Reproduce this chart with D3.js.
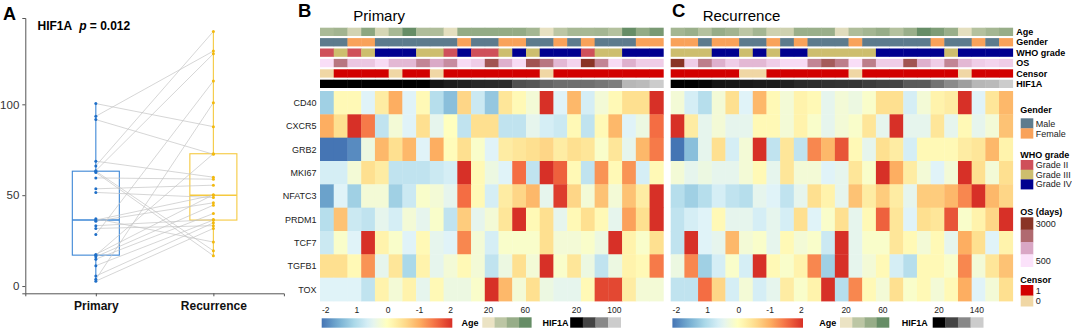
<!DOCTYPE html>
<html>
<head>
<meta charset="utf-8">
<script src="https://cdn.jsdelivr.net/npm/d3@7"></script>
<style>
  body { margin: 0; background: #fff; }
  text { font-family: "Liberation Sans", Arial, Helvetica, sans-serif; }
</style>
</head>
<body>
<script>
// ---------- data ----------
const groups = ["Primary", "Recurrence"];
// HIF1A per patient, paired (primary sorted ascending)
const hifPrimary    = [2.7, 3.7, 5.5, 11.2, 14.8, 16.1, 17.0, 17.4, 28.4, 31.7, 33.2, 35.7, 36.3, 37.0, 51.5, 53.5, 59.5, 62.5, 63.2, 63.5, 66.1, 68.7, 91.6, 93.4, 100.4];
const hifRecurrence = [31.7, 100.9, 34.8, 36.3, 39.9, 44.5, 72.8, 50.3, 112.8, 33.2, 36.6, 45.8, 50.0, 24.2, 48.7, 55.5, 58.8, 16.7, 19.4, 127.8, 140.1, 59.9, 72.5, 129.3, 87.7];
const yTicksA = [0, 50, 100];

const genes = ["CD40", "CXCR5", "GRB2", "MKI67", "NFATC3", "PRDM1", "TCF7", "TGFB1", "TOX"];
const annNames = ["Age", "Gender", "WHO grade", "OS", "Censor", "HIF1A"];

const exprPrimary = [
  [-1.1, 0.1, 0.1, -0.5, 0.3, 1.0, -0.5, 0.1, -0.9, -1.3, 0.6, -0.7, -1.2, 0.4, 0.1, -0.2, 2, -0.5, 0.9, -0.6, -0.2, 0.1, 0.5, 0.5, 2],
  [1.0, 0.5, 2, 1.4, -0.8, -0.2, -0.5, 0.5, -0.4, 0, -0.8, 0.5, 0.5, -0.8, -0.8, -0.4, -0.6, -0.7, 0.1, -0.8, 0.1, 0.9, -0.5, -0.3, 1.5],
  [-2, -2, -1.8, -0.3, 0.9, 0.5, 0.9, -0.5, 1.0, 0.05, 0.5, -0.1, -0.5, 0.3, 0.4, 0.5, 0.6, 0.3, 0.5, 0.4, -0.1, 0.4, -0.4, 0.9, 1.4],
  [-0.6, -0.6, -0.2, 0.5, 0.3, -0.8, -0.8, -0.8, -0.7, -0.6, 2, 0.1, -0.3, -0.5, 1.5, -0.8, 2, 1.6, 0.1, -0.8, 1.2, 0.1, 1.2, -0.6, 0.1],
  [-1.6, -0.5, -1.1, -0.2, -0.2, -1.1, -0.7, -0.1, -0.2, -0.4, 1.5, 0.1, -0.6, 0.3, 0.6, 0.9, -0.4, 1.9, 0.6, -0.2, 0.8, -0.2, 0.8, 0.3, 2],
  [-0.9, 0.8, -0.7, -0.8, -0.4, -0.6, -0.2, -0.4, -0.1, -0.8, 0.7, -0.4, -0.2, 0.4, 2, 0.1, 0.5, -0.4, 0.1, 0.5, 0.1, -0.4, 1.1, 0.5, 2],
  [-0.7, -0.1, -0.5, 2, 0.2, -0.1, -0.5, 0.1, -0.4, -0.5, 1.3, -0.2, -0.6, -0.1, -0.1, -0.1, 0.5, -0.2, -0.2, -0.1, -0.3, 2, 0.2, -0.1, 0.5],
  [0.5, 0.5, 0.1, 1.2, -0.4, 0.4, -1.0, 0.2, -0.4, -0.2, 0.1, -0.2, -0.8, -0.3, 0.5, -0.2, 2, -0.1, 0.4, -0.3, -0.8, -0.3, 0.2, 0.1, 1.4],
  [-0.5, -0.5, -0.5, -0.8, 0.2, -0.2, 0.2, -0.4, 0.1, -0.3, -0.3, -0.1, 2, 0.9, -0.2, 0.5, -0.3, -0.4, -0.4, 0.1, 1.8, 1.8, 0.3, -0.2, -0.2]
];
const exprRecurrence = [
  [-0.2, -0.6, -0.9, -0.2, 0.5, -0.5, 0.9, 0.1, -0.2, 0.2, 0.1, -0.4, -0.2, -0.3, -0.1, 0.5, 0.5, -0.6, -0.2, 0.2, 0.3, 2, -0.5, 0.4, 0.9],
  [2, 0.3, -0.4, -0.2, -0.4, -0.4, 0.1, 0.1, -0.2, 0.2, -0.1, -0.4, -0.2, -0.1, 0.4, -0.4, 2, -0.4, -0.4, 0.4, -0.4, 0.1, -0.4, -0.2, 0.8],
  [-2, -1.3, -0.4, 0.5, -0.6, -0.2, 2, -0.8, 0.4, -0.8, 1.3, 0.9, 1.7, 0.1, -0.4, 0.5, 0.3, -0.6, 0.1, 0.1, 0.1, 0.3, 0.4, 0.9, 0.2],
  [-0.2, -0.4, -0.3, -0.4, -0.4, -0.2, 0.1, -0.4, 0.4, -0.2, -0.2, -0.5, -0.4, 0.4, -0.1, 2, 1.0, 0.3, -0.2, -0.5, -0.2, 2, 0.5, -0.2, 0.5],
  [-0.9, -1.1, -0.9, -0.6, -0.8, -0.9, -0.4, -0.5, -0.8, -0.4, 0.5, 0.2, -0.4, 0.8, 0.3, 0.7, 0.3, -0.4, 0.7, 0.7, 0.9, 1.3, 2, 0.9, 0.6],
  [-0.8, -0.6, -0.5, 0.1, -0.4, -0.4, -0.6, -0.4, -0.6, 0.5, -0.5, -0.1, 0.5, -0.4, 0.1, 1.6, 0.4, -0.5, 0.5, 0.4, 1.7, -0.1, 0.2, 0.6, 2],
  [-0.8, 2, -0.5, -0.4, 0.9, -0.2, -0.1, -0.4, 0.1, -0.2, -0.1, -0.7, 2, -0.4, -0.1, -0.1, 0.4, 0.1, -0.2, 0.1, -0.4, 1.0, 0.5, -0.5, 0.2],
  [-0.3, 1.3, -1.1, -0.6, -0.1, -0.6, 2, 0.1, -0.1, 0.2, 1.3, -1.1, 2, -0.4, -0.2, 0.1, -0.6, -0.9, 0.1, 0.1, -0.1, 1.3, -0.2, 0.4, 0.8],
  [-0.8, -0.8, 1.5, 0.6, -0.6, -0.2, -0.6, -0.4, 0.3, -0.1, 0.2, 2, -0.9, 1.3, 0.1, -0.2, 0.5, -0.1, 0.1, -0.2, 0.1, 1.0, -0.5, -0.2, 0.5]
];

// column annotations
const ageP    = [40, 43, 27, 50, 26, 41, 60, 38, 38, 22, 48, 48, 48, 48, 48, 42, 21, 33, 41, 41, 42, 36, 60, 48, 55];
const genderP = ["M","M","F","F","M","M","M","M","M","M","F","M","M","F","F","M","M","F","M","F","M","M","M","F","F"];
const whoP    = ["II","III","II","III","IV","IV","IV","III","III","II","IV","II","II","III","IV","III","IV","IV","IV","II","III","III","IV","IV","IV"];
const osP     = [550, 2000, 900, 900, 600, 1100, 1100, 1800, 1300, 1700, 600, 800, 2500, 1200, 600, 2500, 2000, 1100, 700, 3000, 1800, 600, 1200, 800, 800];
const censorP = [0,1,1,1,1,0,1,1,0,1,1,1,1,1,1,1,0,1,1,1,1,1,1,1,1];

const ageR    = [42, 46, 36, 47, 43, 33, 42, 28, 28, 46, 46, 46, 23, 38, 42, 47, 36, 46, 60, 54, 46, 22, 36, 42, 47];
const genderR = ["F","F","M","F","F","M","M","F","M","F","M","M","M","F","M","M","M","M","M","F","M","M","F","M","F"];
const whoR    = ["III","III","III","IV","IV","III","IV","III","IV","IV","III","III","III","III","III","IV","IV","IV","IV","IV","III","IV","IV","IV","IV"];
const osR     = [3000, 800, 1900, 1200, 800, 1100, 1100, 800, 600, 600, 1800, 2400, 1900, 550, 1900, 800, 800, 2500, 1200, 800, 1800, 1100, 800, 700, 800];
const censorR = [1,1,1,1,1,0,0,1,1,1,1,1,1,0,1,1,1,1,1,1,1,0,1,1,1];

const exprTickLabels = ["-2", "1", "0", "-1", "2"];
const ageLegend = [20, 33, 47, 60];
const ageLegendLabels = ["20", "60"];
const hifLegendP = [20, 47, 73, 100];
const hifLegendR = [20, 60, 100, 140];
const genderKeys = ["M", "F"], genderLabels = ["Male", "Female"];
const whoKeys = ["II", "III", "IV"], whoLabels = ["Grade II", "Grade III", "Grade IV"];
const osLegend = [3000, 2167, 1333, 500];
const censorKeys = [1, 0];

// ---------- scales ----------
const exprColor = d3.scaleLinear()
  .domain([-2, -1.5, -1, -0.5, 0, 0.5, 1, 1.5, 2])
  .range(["#4575b4","#74add1","#abd9e9","#e0f3f8","#ffffbf","#fee090","#fdae61","#f46d43","#d73027"])
  .clamp(true);
const ageColor = d3.scaleLinear().domain(ageLegend)
  .range(["#ebe3c4", "#bcc6a4", "#97ad88", "#668d66"]).clamp(true);
const genderColor = d3.scaleOrdinal().domain(genderKeys).range(["#5d7b8d", "#f9a25a"]);
const whoColor = d3.scaleOrdinal().domain(whoKeys).range(["#cf505a", "#cdbe6e", "#00008f"]);
const osColor = d3.scaleLinear().domain([500, 1333, 2167, 3000])
  .range(["#fbe2fa", "#d9a7c5", "#b06a70", "#8a3426"]).clamp(true);
const censorColor = d3.scaleOrdinal().domain(censorKeys).range(["#d20000", "#f0d7a5"]);
const hifColorP = d3.scaleLinear().domain(hifLegendP).range(["#000", "#444", "#888", "#ccc"]).clamp(true);
const hifColorR = d3.scaleLinear().domain(hifLegendR).range(["#000", "#444", "#888", "#ccc"]).clamp(true);

const svg = d3.select("body").append("svg")
  .attr("width", 1072).attr("height", 331);

// ---------- panel A ----------
const gA = svg.append("g");
const yA = d3.scaleLinear().domain([-4, 147.5]).range([293.3, 18]);
const xA = d3.scalePoint().domain(groups).range([25.3, 283.9]).padding(0.6);
const boxCol = {Primary: "#3d87d6", Recurrence: "#f5c93f"};
const dotCol = {Primary: "#1f6fc8", Recurrence: "#f2b90f"};

gA.append("text").attr("x", 3).attr("y", 19.5)
  .attr("font-size", 18).attr("font-weight", "bold").text("A");
const ttl = gA.append("text").attr("x", 37.5).attr("y", 30)
  .attr("font-size", 12).attr("font-weight", "bold");
ttl.append("tspan").text("HIF1A");
ttl.append("tspan").attr("dx", 7).attr("font-style", "italic").text("p");
ttl.append("tspan").text(" = 0.012");

const yAxisA = gA.append("g").attr("transform", "translate(25.3,0)")
  .call(d3.axisLeft(yA).tickValues(yTicksA).tickSize(3).tickPadding(3));
yAxisA.select(".domain").attr("stroke", "#555");
yAxisA.selectAll(".tick line").attr("stroke", "#555");
yAxisA.selectAll("text").attr("font-size", 11.5).attr("fill", "#333")
  .style("font-family", "Liberation Sans, Arial, sans-serif");

const xAxisA = gA.append("g").attr("transform", "translate(0,293.3)")
  .call(d3.axisBottom(xA).tickSize(3).tickPadding(5));
xAxisA.select(".domain").attr("stroke", "#555");
xAxisA.selectAll(".tick line").attr("stroke", "#555");
xAxisA.selectAll("text").attr("font-size", 12).attr("font-weight", "bold").attr("fill", "#111")
  .style("font-family", "Liberation Sans, Arial, sans-serif");

const seriesA = {Primary: hifPrimary, Recurrence: hifRecurrence};
const bw = xA.step() * 0.4;
groups.forEach(g => {
  const v = seriesA[g].slice().sort(d3.ascending);
  const q1 = d3.quantile(v, 0.25), med = d3.quantile(v, 0.5), q3 = d3.quantile(v, 0.75);
  const cx = xA(g);
  gA.append("line").attr("x1", cx).attr("x2", cx)
    .attr("y1", yA(d3.max(v))).attr("y2", yA(q3)).attr("stroke", boxCol[g]).attr("stroke-width", 1.1);
  gA.append("line").attr("x1", cx).attr("x2", cx)
    .attr("y1", yA(q1)).attr("y2", yA(d3.min(v))).attr("stroke", boxCol[g]).attr("stroke-width", 1.1);
  gA.append("rect").attr("x", cx - bw / 2).attr("width", bw)
    .attr("y", yA(q3)).attr("height", yA(q1) - yA(q3))
    .attr("fill", "none").attr("stroke", boxCol[g]).attr("stroke-width", 1.1);
  gA.append("line").attr("x1", cx - bw / 2).attr("x2", cx + bw / 2)
    .attr("y1", yA(med)).attr("y2", yA(med)).attr("stroke", boxCol[g]).attr("stroke-width", 1.5);
});

gA.selectAll(".pair").data(d3.range(hifPrimary.length)).enter()
  .append("line").attr("class", "pair")
  .attr("x1", xA("Primary")).attr("y1", i => yA(hifPrimary[i]))
  .attr("x2", xA("Recurrence")).attr("y2", i => yA(hifRecurrence[i]))
  .attr("stroke", "#c4c4c4").attr("stroke-width", 0.7);

groups.forEach(g => {
  gA.selectAll(".dot" + g).data(seriesA[g]).enter()
    .append("circle").attr("cx", xA(g)).attr("cy", d => yA(d))
    .attr("r", 1.5).attr("fill", dotCol[g]);
});

// ---------- heatmaps ----------
const annTop = 27.7, annBottom = 88, bodyTop = 91, bodyBottom = 301;
const yAnn = d3.scaleBand().domain(annNames).range([annTop, annBottom]).paddingInner(0.2);
const yBody = d3.scaleBand().domain(genes).range([bodyTop, bodyBottom]);

function drawHeatmap(o) {
  const g = svg.append("g");
  const xc = d3.scaleBand().domain(d3.range(25)).range([o.x0, o.x1]);
  const cw = xc.bandwidth();

  g.append("text").attr("x", o.letterX).attr("y", 17)
    .attr("font-size", 18.5).attr("font-weight", "bold").text(o.letter);
  g.append("text").attr("x", o.titleX).attr("y", 20.5)
    .attr("font-size", 15).text(o.title);

  const hifSorted = o.hif.slice().sort(d3.ascending);
  const annRows = [
    {name: "Age", vals: o.age, col: ageColor},
    {name: "Gender", vals: o.gender, col: genderColor},
    {name: "WHO grade", vals: o.who, col: whoColor},
    {name: "OS", vals: o.os, col: osColor},
    {name: "Censor", vals: o.censor, col: censorColor},
    {name: "HIF1A", vals: hifSorted, col: o.hifColor}
  ];
  annRows.forEach(r => {
    g.selectAll(null).data(r.vals).enter().append("rect")
      .attr("x", (d, i) => xc(i)).attr("width", cw + 0.4)
      .attr("y", yAnn(r.name)).attr("height", yAnn.bandwidth())
      .attr("fill", d => r.col(d));
  });

  o.expr.forEach((row, ri) => {
    g.selectAll(null).data(row).enter().append("rect")
      .attr("x", (d, i) => xc(i)).attr("width", cw + 0.4)
      .attr("y", yBody(genes[ri])).attr("height", yBody.bandwidth() + 0.4)
      .attr("fill", d => exprColor(d));
  });

  if (o.showGenes) {
    g.selectAll(".gene").data(genes).enter().append("text")
      .attr("x", o.x0 - 3.5).attr("y", d => yBody(d) + yBody.bandwidth() / 2 + 3.2)
      .attr("text-anchor", "end").attr("font-size", 9).attr("fill", "#222")
      .text(d => d);
  }
  if (o.showAnnLabels) {
    g.selectAll(".annl").data(annNames).enter().append("text")
      .attr("x", o.x1 + 3.5).attr("y", d => yAnn(d) + yAnn.bandwidth() / 2 + 3.2)
      .attr("font-size", 9).attr("font-weight", "bold").text(d => d);
  }

  // expression colour bar
  const gid = "grad" + o.letter;
  const grad = svg.append("defs").append("linearGradient").attr("id", gid);
  d3.range(0, 1.0001, 0.05).forEach(t => {
    grad.append("stop").attr("offset", t).attr("stop-color", exprColor(-2 + 4 * t));
  });
  const cbX = o.x0 + 1.7, cbW = 130.6;
  g.append("rect").attr("x", cbX).attr("y", 318.3).attr("width", cbW).attr("height", 9.4)
    .attr("fill", "url(#" + gid + ")");
  const cbTicks = d3.scalePoint().domain(d3.range(exprTickLabels.length)).range([cbX + 4, cbX + 129]);
  g.selectAll(".cbt").data(exprTickLabels).enter().append("text")
    .attr("x", (d, i) => cbTicks(i)).attr("y", 313.3).attr("text-anchor", "middle")
    .attr("font-size", 8.5).attr("fill", "#222").text(d => d);

  // Age legend
  g.append("text").attr("x", o.ageX).attr("y", 326).attr("font-size", 9)
    .attr("font-weight", "bold").text("Age");
  const ageBox = d3.scaleBand().domain(d3.range(4)).range([o.ageBoxX, o.ageBoxX + 49]);
  g.selectAll(".ab").data(ageLegend).enter().append("rect")
    .attr("x", (d, i) => ageBox(i)).attr("width", ageBox.bandwidth() + 0.3)
    .attr("y", 317.3).attr("height", 10.4).attr("fill", d => ageColor(d));
  g.selectAll(".al").data(ageLegendLabels).enter().append("text")
    .attr("x", (d, i) => ageBox(i * 3) + ageBox.bandwidth() / 2).attr("y", 313.3)
    .attr("text-anchor", "middle").attr("font-size", 8.5).attr("fill", "#222").text(d => d);

  // HIF1A legend
  g.append("text").attr("x", o.hifX).attr("y", 326).attr("font-size", 9)
    .attr("font-weight", "bold").text("HIF1A");
  const hifBox = d3.scaleBand().domain(d3.range(4)).range([o.hifBoxX, o.hifBoxX + 50.5]);
  g.selectAll(".hb").data(o.hifLegend).enter().append("rect")
    .attr("x", (d, i) => hifBox(i)).attr("width", hifBox.bandwidth() + 0.3)
    .attr("y", 317.3).attr("height", 10.4).attr("fill", d => o.hifColor(d));
  const hl = [o.hifLegend[0], o.hifLegend[3]];
  g.selectAll(".hl").data(hl).enter().append("text")
    .attr("x", (d, i) => hifBox(i * 3) + hifBox.bandwidth() / 2).attr("y", 313.3)
    .attr("text-anchor", "middle").attr("font-size", 8.5).attr("fill", "#222").text(d => d);
}

drawHeatmap({
  letter: "B", letterX: 298, title: "Primary", titleX: 353.3,
  x0: 320, x1: 663.3, expr: exprPrimary, hif: hifPrimary, hifColor: hifColorP, hifLegend: hifLegendP,
  age: ageP, gender: genderP, who: whoP, os: osP, censor: censorP,
  showGenes: true, showAnnLabels: false,
  ageX: 461.5, ageBoxX: 482.3, hifX: 542.5, hifBoxX: 570.2
});
drawHeatmap({
  letter: "C", letterX: 672, title: "Recurrence", titleX: 702.7,
  x0: 670.7, x1: 1012.7, expr: exprRecurrence, hif: hifRecurrence, hifColor: hifColorR, hifLegend: hifLegendR,
  age: ageR, gender: genderR, who: whoR, os: osR, censor: censorR,
  showGenes: false, showAnnLabels: true,
  ageX: 819.3, ageBoxX: 840, hifX: 901.7, hifBoxX: 932.7
});

// ---------- right-hand legends ----------
const gL = svg.append("g");
const lgX = 1020.7, lgW = 12.6, lgTx = 1035.8;
function discreteLegend(title, titleY, keys, labels, col, top, h) {
  gL.append("text").attr("x", lgX - 0.5).attr("y", titleY + 3.2).attr("font-size", 9)
    .attr("font-weight", "bold").text(title);
  const yb = d3.scaleBand().domain(d3.range(keys.length)).range([top, top + h * keys.length]);
  gL.selectAll(null).data(keys).enter().append("rect")
    .attr("x", lgX).attr("width", lgW).attr("y", (d, i) => yb(i)).attr("height", yb.bandwidth() + 0.3)
    .attr("fill", d => col(d));
  gL.selectAll(null).data(labels).enter().append("text")
    .attr("x", lgTx).attr("y", (d, i) => yb(i) + yb.bandwidth() / 2 + 3.2)
    .attr("font-size", 9).attr("fill", "#222").text(d => d);
}
discreteLegend("Gender", 110, genderKeys, genderLabels, genderColor, 118.3, 10);
discreteLegend("WHO grade", 155, whoKeys, whoLabels, whoColor, 160, 9.7);
discreteLegend("OS (days)", 211.7, osLegend, ["3000", "", "", "500"], osColor, 217.3, 12.35);
discreteLegend("Censor", 280, censorKeys, ["1", "0"], censorColor, 285, 10.6);
</script>
</body>
</html>
